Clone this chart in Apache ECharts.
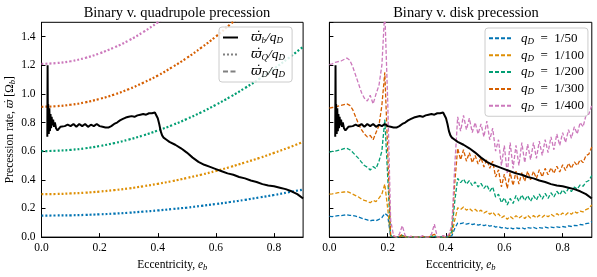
<!DOCTYPE html>
<html>
<head>
<meta charset="utf-8">
<script src="https://cdn.jsdelivr.net/npm/echarts@6/dist/echarts.min.js"></script>
<style>
  html, body { margin: 0; padding: 0; background: #fff; }
  #chart { width: 597px; height: 277px; }
</style>
</head>
<body>
<div id="chart"></div>
<script>
// eccentricity grid of the disk runs (0.00 .. 0.90, step 0.01)
const ecc = [
  0.00, 0.01, 0.02, 0.03, 0.04, 0.05, 0.06, 0.07, 0.08, 0.09,
  0.10, 0.11, 0.12, 0.13, 0.14, 0.15, 0.16, 0.17, 0.18, 0.19,
  0.20, 0.21, 0.22, 0.23, 0.24, 0.25, 0.26, 0.27, 0.28, 0.29,
  0.30, 0.31, 0.32, 0.33, 0.34, 0.35, 0.36, 0.37, 0.38, 0.39,
  0.40, 0.41, 0.42, 0.43, 0.44, 0.45, 0.46, 0.47, 0.48, 0.49,
  0.50, 0.51, 0.52, 0.53, 0.54, 0.55, 0.56, 0.57, 0.58, 0.59,
  0.60, 0.61, 0.62, 0.63, 0.64, 0.65, 0.66, 0.67, 0.68, 0.69,
  0.70, 0.71, 0.72, 0.73, 0.74, 0.75, 0.76, 0.77, 0.78, 0.79,
  0.80, 0.81, 0.82, 0.83, 0.84, 0.85, 0.86, 0.87, 0.88, 0.89,
  0.90,
]

// disk precession / q_D
const disk50 = [
  0.145, 0.143, 0.147, 0.150, 0.149, 0.153, 0.156, 0.152, 0.150, 0.146,
  0.140, 0.132, 0.126, 0.120, 0.114, 0.118, 0.115, 0.124, 0.136, 0.165,
  0.150, 0.004, 0.002, 0.000, 0.001, 0.003, 0.000, 0.000, 0.001, 0.000,
  0.000, 0.000, 0.001, 0.000, 0.000, 0.002, 0.004, 0.000, 0.000, 0.001,
  0.000, 0.002, 0.010, 0.060, 0.098, 0.094, 0.100, 0.090, 0.096, 0.088,
  0.092, 0.084, 0.090, 0.080, 0.086, 0.076, 0.082, 0.070, 0.074, 0.064,
  0.068, 0.060, 0.066, 0.058, 0.064, 0.060, 0.066, 0.058, 0.066, 0.062,
  0.068, 0.060, 0.066, 0.062, 0.070, 0.064, 0.070, 0.066, 0.072, 0.068,
  0.074, 0.070, 0.078, 0.074, 0.082, 0.080, 0.088, 0.086, 0.094, 0.098,
  0.108,
]
const disk100 = [
  0.300, 0.302, 0.305, 0.310, 0.312, 0.315, 0.318, 0.310, 0.300, 0.290,
  0.280, 0.266, 0.256, 0.250, 0.240, 0.256, 0.248, 0.272, 0.300, 0.370,
  0.200, 0.006, 0.003, 0.000, 0.002, 0.005, 0.000, 0.000, 0.002, 0.000,
  0.000, 0.000, 0.002, 0.000, 0.000, 0.004, 0.006, 0.000, 0.000, 0.002,
  0.000, 0.004, 0.020, 0.120, 0.205, 0.192, 0.210, 0.188, 0.200, 0.182,
  0.194, 0.176, 0.188, 0.168, 0.180, 0.160, 0.174, 0.150, 0.162, 0.135,
  0.148, 0.125, 0.145, 0.128, 0.150, 0.132, 0.148, 0.130, 0.152, 0.134,
  0.150, 0.134, 0.152, 0.138, 0.156, 0.142, 0.160, 0.146, 0.164, 0.150,
  0.168, 0.154, 0.172, 0.160, 0.178, 0.168, 0.182, 0.176, 0.192, 0.200,
  0.225,
]
const disk200 = [
  0.593, 0.598, 0.600, 0.605, 0.610, 0.618, 0.620, 0.610, 0.592, 0.570,
  0.550, 0.524, 0.500, 0.488, 0.468, 0.492, 0.478, 0.530, 0.600, 0.820,
  0.420, 0.010, 0.004, 0.000, 0.003, 0.012, 0.000, 0.000, 0.003, 0.000,
  0.000, 0.000, 0.003, 0.000, 0.000, 0.006, 0.010, 0.000, 0.000, 0.003,
  0.000, 0.006, 0.040, 0.250, 0.410, 0.380, 0.405, 0.370, 0.395, 0.360,
  0.385, 0.350, 0.375, 0.340, 0.365, 0.320, 0.350, 0.280, 0.300, 0.240,
  0.275, 0.225, 0.270, 0.235, 0.290, 0.250, 0.295, 0.255, 0.290, 0.250,
  0.290, 0.258, 0.300, 0.265, 0.305, 0.270, 0.310, 0.280, 0.320, 0.295,
  0.330, 0.305, 0.340, 0.318, 0.350, 0.335, 0.365, 0.355, 0.385, 0.395,
  0.430,
]
const disk300 = [
  0.900, 0.905, 0.910, 0.915, 0.920, 0.925, 0.930, 0.920, 0.890, 0.840,
  0.790, 0.750, 0.720, 0.700, 0.710, 0.680, 0.730, 0.780, 0.920, 1.150,
  0.600, 0.015, 0.006, 0.000, 0.004, 0.020, 0.000, 0.000, 0.005, 0.000,
  0.000, 0.000, 0.005, 0.000, 0.000, 0.010, 0.020, 0.000, 0.000, 0.006,
  0.000, 0.010, 0.060, 0.380, 0.620, 0.540, 0.610, 0.530, 0.590, 0.520,
  0.570, 0.510, 0.555, 0.490, 0.540, 0.480, 0.530, 0.420, 0.470, 0.350,
  0.440, 0.340, 0.450, 0.360, 0.460, 0.370, 0.450, 0.390, 0.460, 0.400,
  0.460, 0.410, 0.470, 0.420, 0.480, 0.435, 0.485, 0.445, 0.495, 0.455,
  0.505, 0.465, 0.515, 0.480, 0.525, 0.500, 0.540, 0.520, 0.570, 0.580,
  0.630,
]
const disk400 = [
  1.205, 1.210, 1.220, 1.225, 1.230, 1.240, 1.250, 1.235, 1.190, 1.130,
  1.070, 1.010, 0.970, 0.950, 0.990, 0.930, 1.000, 1.060, 1.200, 1.580,
  0.950, 0.120, 0.010, 0.000, 0.020, 0.080, 0.010, 0.000, 0.005, 0.000,
  0.000, 0.000, 0.010, 0.000, 0.000, 0.020, 0.090, 0.000, 0.000, 0.010,
  0.000, 0.020, 0.080, 0.500, 0.840, 0.740, 0.850, 0.750, 0.830, 0.730,
  0.800, 0.720, 0.790, 0.700, 0.810, 0.680, 0.760, 0.600, 0.680, 0.500,
  0.640, 0.440, 0.660, 0.480, 0.640, 0.500, 0.660, 0.520, 0.650, 0.540,
  0.660, 0.550, 0.670, 0.570, 0.680, 0.590, 0.700, 0.610, 0.720, 0.640,
  0.730, 0.660, 0.750, 0.690, 0.770, 0.720, 0.800, 0.770, 0.850, 0.860,
  0.920,
]

// quadrupole precession / q_D, sampled every 0.05
const quadEcc = [0.00, 0.05, 0.10, 0.15, 0.20, 0.25, 0.30, 0.35, 0.40, 0.45,
  0.50, 0.55, 0.60, 0.65, 0.70, 0.75, 0.80, 0.85, 0.90]
const quad50 = [0.150, 0.151, 0.152, 0.155, 0.159, 0.164, 0.170, 0.178, 0.186, 0.196,
  0.206, 0.218, 0.231, 0.245, 0.260, 0.277, 0.294, 0.313, 0.332]
const quad100 = [0.300, 0.301, 0.305, 0.310, 0.318, 0.328, 0.340, 0.355, 0.372, 0.391,
  0.413, 0.436, 0.462, 0.490, 0.521, 0.553, 0.588, 0.625, 0.665]
const quad200 = [0.600, 0.603, 0.609, 0.620, 0.636, 0.656, 0.681, 0.710, 0.744, 0.782,
  0.825, 0.872, 0.924, 0.980, 1.041, 1.106, 1.176, 1.250, 1.329]
const quad300 = [0.910, 0.914, 0.924, 0.941, 0.965, 0.995, 1.033, 1.078, 1.128, 1.187,
  1.251, 1.323, 1.401, 1.487, 1.579, 1.678, 1.784, 1.896, 2.016]
const quad400 = [1.210, 1.215, 1.228, 1.251, 1.283, 1.324, 1.373, 1.432, 1.500, 1.578,
  1.664, 1.760, 1.863, 1.976, 2.099, 2.231, 2.372, 2.521, 2.680]

// binary precession / q_D
const binEcc = [0.020, 0.021, 0.022, 0.023, 0.025, 0.027, 0.029, 0.031, 0.033, 0.035,
  0.037, 0.040, 0.043, 0.046, 0.050, 0.055, 0.060, 0.065, 0.07, 0.08,
  0.09, 0.10, 0.11, 0.12, 0.13, 0.14, 0.15, 0.16, 0.17, 0.18,
  0.19, 0.20, 0.21, 0.22, 0.23, 0.24, 0.25, 0.26, 0.27, 0.28,
  0.29, 0.30, 0.31, 0.32, 0.33, 0.34, 0.35, 0.36, 0.37, 0.38,
  0.39, 0.395, 0.40, 0.405, 0.41, 0.415, 0.42, 0.43, 0.44, 0.46,
  0.48, 0.50, 0.52, 0.54, 0.56, 0.58, 0.60, 0.62, 0.64, 0.66,
  0.68, 0.70, 0.72, 0.74, 0.76, 0.78, 0.80, 0.82, 0.84, 0.86,
  0.88, 0.90]
const binRate = [0.70, 1.20, 0.75, 0.93, 0.72, 0.90, 0.74, 0.86, 0.76, 0.84,
  0.78, 0.82, 0.77, 0.80, 0.76, 0.745, 0.75, 0.77, 0.78, 0.775,
  0.785, 0.775, 0.79, 0.77, 0.79, 0.775, 0.79, 0.77, 0.785, 0.775,
  0.79, 0.775, 0.77, 0.765, 0.765, 0.775, 0.79, 0.80, 0.815, 0.825,
  0.835, 0.84, 0.845, 0.84, 0.85, 0.855, 0.86, 0.855, 0.865, 0.865,
  0.87, 0.86, 0.83, 0.79, 0.74, 0.71, 0.695, 0.68, 0.665, 0.645,
  0.62, 0.59, 0.555, 0.525, 0.505, 0.49, 0.475, 0.46, 0.445, 0.435,
  0.42, 0.41, 0.395, 0.385, 0.37, 0.36, 0.355, 0.345, 0.335, 0.32,
  0.30, 0.27]

const diskLabels = ['1/50', '1/100', '1/200', '1/300', '1/400']
const colors = ['#0173b2', '#de8f05', '#029e73', '#d55e00', '#cc78bc']

const pair = (xs, ys) => xs.map((x, i) => [x, ys[i]])
const serif = 'Liberation Serif'

const chart = echarts.init(document.getElementById('chart'))

const subRich = {
  i: { fontFamily: serif, fontSize: 11.5, fontStyle: 'italic', color: '#000' },
  s: { fontFamily: serif, fontSize: 8.5, fontStyle: 'italic', color: '#000', padding: [5, 0, 0, 0] },
  w: { fontFamily: 'DejaVu Serif', fontSize: 10.5, fontStyle: 'italic', color: '#000' },
}

const xAxisBase = {
  type: 'value',
  min: 0,
  max: 0.9,
  interval: 0.2,
  name: 'Eccentricity, {i|e}{s|b}',
  nameLocation: 'middle',
  nameGap: 20,
  nameTextStyle: { fontFamily: serif, fontSize: 11.5, color: '#000', rich: subRich },
  axisLine: { show: true, lineStyle: { color: '#000', width: 1 } },
  axisTick: { show: true, inside: true, length: 4, lineStyle: { color: '#000' } },
  axisLabel: {
    fontFamily: serif, fontSize: 11.5, color: '#000', margin: 5,
    showMaxLabel: false,
    formatter: v => v.toFixed(1),
  },
  splitLine: { show: false },
}

const yAxisBase = {
  type: 'value',
  min: 0,
  max: 1.5,
  interval: 0.2,
  axisLine: { show: true, lineStyle: { color: '#000', width: 1 } },
  axisTick: { show: true, inside: true, length: 4, lineStyle: { color: '#000' } },
  axisLabel: {
    fontFamily: serif, fontSize: 11.5, color: '#000', margin: 6,
    showMaxLabel: false,
    formatter: v => v.toFixed(1),
  },
  splitLine: { show: false },
}

const series = []

// left panel: quadrupole precession, dotted
;[quad50, quad100, quad200, quad300, quad400].forEach((vals, i) => {
  series.push({
    name: 'quad' + i,
    type: 'line',
    xAxisIndex: 0,
    yAxisIndex: 0,
    data: pair(quadEcc, vals),
    smooth: true,
    symbol: 'none',
    lineStyle: { color: colors[i], width: 2.2, type: [2, 2] },
    z: 2,
  })
})

// right panel: disk precession, dashed
;[disk50, disk100, disk200, disk300, disk400].forEach((vals, i) => {
  series.push({
    name: 'disk' + i,
    type: 'line',
    xAxisIndex: 1,
    yAxisIndex: 1,
    data: pair(ecc, vals),
    symbol: 'none',
    itemStyle: { color: colors[i] },
    lineStyle: { color: colors[i], width: 1.3, type: [4, 2] },
    z: 2,
  })
})

// binary precession in both panels
;[0, 1].forEach(k => {
  series.push({
    name: 'wb',
    type: 'line',
    xAxisIndex: k,
    yAxisIndex: k,
    data: pair(binEcc, binRate),
    symbol: 'none',
    itemStyle: { color: '#000' },
    lineStyle: { color: '#000', width: 2 },
    z: 5,
  })
})

// legend-only entries
series.push({
  name: 'wQ', type: 'line', xAxisIndex: 0, yAxisIndex: 0, data: [],
  symbol: 'none', itemStyle: { color: '#808080' },
  lineStyle: { color: '#808080', width: 2, type: [2, 2] },
})
series.push({
  name: 'wD', type: 'line', xAxisIndex: 0, yAxisIndex: 0, data: [],
  symbol: 'none', itemStyle: { color: '#808080' },
  lineStyle: { color: '#808080', width: 2, type: [5, 2.5] },
})

const legendRich = {
  w: { fontFamily: 'DejaVu Serif', fontSize: 13, fontStyle: 'italic', color: '#000', padding: [0, 0, 0, 8] },
  i: { fontFamily: serif, fontSize: 13.5, fontStyle: 'italic', color: '#000' },
  q: { fontFamily: serif, fontSize: 13, fontStyle: 'italic', color: '#000', padding: [0, 0, 0, 5] },
  s: { fontFamily: serif, fontSize: 9, fontStyle: 'italic', color: '#000', padding: [6, 0, 0, 0] },
  n: { fontFamily: serif, fontSize: 13, color: '#000' },
}
const leftSubs = { wb: 'b', wQ: 'Q', wD: 'D' }

const option = {
  animation: false,
  backgroundColor: '#fff',
  title: [
    {
      text: 'Binary v. quadrupole precession',
      left: 172, top: 1, textAlign: 'center',
      textStyle: { fontFamily: serif, fontSize: 14.5, fontWeight: 'normal', color: '#000' },
    },
    {
      text: 'Binary v. disk precession',
      left: 461, top: 1, textAlign: 'center',
      textStyle: { fontFamily: serif, fontSize: 14.5, fontWeight: 'normal', color: '#000' },
    },
  ],
  grid: [
    { left: 41.5, top: 22.3, width: 261.6, height: 218.2, show: true, borderColor: '#000', borderWidth: 1 },
    { left: 329.4, top: 22.3, width: 262.4, height: 218.2, show: true, borderColor: '#000', borderWidth: 1 },
  ],
  xAxis: [
    Object.assign({}, xAxisBase, { gridIndex: 0 }),
    Object.assign({}, xAxisBase, { gridIndex: 1 }),
  ],
  yAxis: [
    Object.assign({}, yAxisBase, {
      gridIndex: 0,
      name: 'Precession rate, {w|ϖ̇} [Ω{s|b}]',
      nameLocation: 'middle',
      nameGap: 22.5,
      nameTextStyle: { fontFamily: serif, fontSize: 11.5, color: '#000', rich: subRich },
    }),
    Object.assign({}, yAxisBase, {
      gridIndex: 1,
      axisLabel: { show: false },
    }),
  ],
  legend: [
    {
      data: ['wb', 'wQ', 'wD'],
      orient: 'vertical',
      left: 219, top: 27,
      itemWidth: 15, itemHeight: 8, itemGap: 2,
      padding: [3, 7, 3, 3],
      itemStyle: { opacity: 0 },
      backgroundColor: 'rgba(255,255,255,0.85)',
      borderColor: '#ccc', borderWidth: 1, borderRadius: 3,
      formatter: name => '{w|ϖ̇}{s|' + leftSubs[name] + '}{i|/q}{s|D}',
      textStyle: { rich: legendRich, fontFamily: serif, fontSize: 13, lineHeight: 15 },
    },
    {
      data: ['disk0', 'disk1', 'disk2', 'disk3', 'disk4'],
      orient: 'vertical',
      left: 485, top: 28,
      itemWidth: 22, itemHeight: 8, itemGap: 2,
      padding: [3, 4, 3, 3],
      itemStyle: { opacity: 0 },
      backgroundColor: 'rgba(255,255,255,0.85)',
      borderColor: '#ccc', borderWidth: 1, borderRadius: 3,
      formatter: name => '{q|q}{s|D}{n|  =  ' + diskLabels[+name.slice(4)] + '}',
      textStyle: { rich: legendRich, fontFamily: serif, fontSize: 13, lineHeight: 14.7 },
    },
  ],
  series: series,
}

chart.setOption(option)
</script>
</body>
</html>
